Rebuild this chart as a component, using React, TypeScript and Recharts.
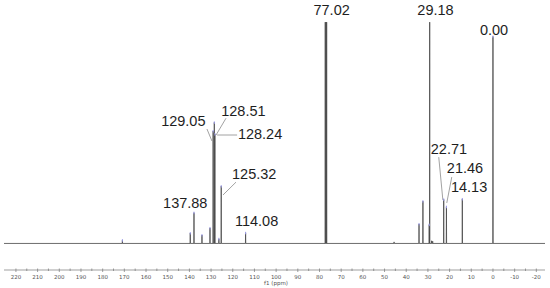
import { ComposedChart, Line, Scatter, XAxis, YAxis, ReferenceLine } from "recharts";

// 13C NMR peak list: shift (ppm) and relative height
const PEAK_PPM = [170.9, 139.6, 137.88, 134.2, 130.5, 129.05, 128.51, 128.24, 126.4, 125.32, 114.08, 77.34, 77.02, 76.7, 45.6, 34.1, 32.3, 29.4, 29.18, 28.3, 27.8, 22.71, 21.46, 14.13, 0.0];
const PEAK_HEIGHT = [1.5, 4.7, 13.9, 3.8, 7.0, 50.8, 54.7, 49.4, 2.1, 25.9, 4.8, 100, 100, 100, 0.7, 8.8, 19.1, 8.5, 100, 1.2, 1.0, 19.9, 16.6, 20.1, 93.5];
const PICKED = [true, true, true, true, true, true, true, true, true, true, true, false, false, false, false, true, true, true, false, false, false, true, true, true, true];

const MAJOR_TICKS = [220, 210, 200, 190, 180, 170, 160, 150, 140, 130, 120, 110, 100, 90, 80, 70, 60, 50, 40, 30, 20, 10, 0, -10, -20];
const MINOR_TICKS = [215, 205, 195, 185, 175, 165, 155, 145, 135, 125, 115, 105, 95, 85, 75, 65, 55, 45, 35, 25, 15, 5, -5, -15];

// peak annotations: text, anchor shift, anchor height
const LABEL_TEXT = ["77.02", "29.18", "0.00", "129.05", "128.51", "128.24", "125.32", "137.88", "114.08", "22.71", "21.46", "14.13"];
const LABEL_PPM = [74.4, 26.5, -0.5, 142.8, 115.1, 107.4, 110.1, 141.9, 109.0, 20.3, 12.9, 11.0];
const LABEL_V = [105.5, 105.5, 96.4, 55.3, 59.8, 49.3, 31.4, 18.5, 10.1, 42.7, 34.3, 25.3];

// leader lines [ppm1, v1, ppm2, v2]
const LEADERS = [
  [131.9, 51.7, 129.6, 46.3],
  [123.1, 56.6, 127.7, 49.0],
  [118.0, 49.0, 127.2, 49.0],
  [118.5, 27.7, 124.5, 21.9],
  [25.0, 39.0, 23.1, 19.6],
  [19.0, 30.0, 21.3, 18.3],
];

const X_MIN = -24;
const X_MAX = 225.5;
const HALF_WIDTH = 0.08;

const buildSpectrum = () => {
  const pts: { ppm: number; v: number }[] = [{ ppm: X_MAX, v: 0 }];
  PEAK_PPM.forEach((p, i) => {
    pts.push({ ppm: p + HALF_WIDTH, v: 0 });
    pts.push({ ppm: p, v: PEAK_HEIGHT[i] });
    pts.push({ ppm: p - HALF_WIDTH, v: 0 });
  });
  pts.push({ ppm: X_MIN, v: 0 });
  return pts;
};

const spectrum = buildSpectrum();
const markers = PEAK_PPM.map((p, i) => ({ ppm: p, v: PEAK_HEIGHT[i] })).filter((_, i) => PICKED[i]);
const labels = LABEL_TEXT.map((t, i) => ({ ppm: LABEL_PPM[i], v: LABEL_V[i], text: t }));

const AxisTick = (props: any) => {
  const { x, payload } = props;
  const major = payload.value % 10 === 0;
  return (
    <g>
      <line x1={x} x2={x} y1={268.5} y2={major ? 272 : 271} stroke="#777" strokeWidth={0.7} />
      {major && (
        <text x={x} y={277} textAnchor="middle" dominantBaseline="central" fontSize={5.5} fill="#555" fontFamily="DejaVu Sans, Verdana">
          {payload.value}
        </text>
      )}
    </g>
  );
};

const PeakLabel = (props: any) => (
  <text x={props.cx} y={props.cy} textAnchor="middle" dominantBaseline="central" fontSize={14.5} fill="#1e1e1e" fontFamily="Liberation Sans, Arial">
    {props.payload.text}
  </text>
);

const PickMarker = (props: any) => <rect x={props.cx - 0.5} y={props.cy - 1} width={1} height={2.5} fill="#9a9ae6" />;

export default function App() {
  return (
    <div style={{ position: "fixed", left: 0, top: 0, width: 550, height: 288, background: "#fff" }}>
      <ComposedChart width={550} height={288} margin={{ top: 0, right: 5, left: 4, bottom: 0 }}>
        <XAxis
          dataKey="ppm"
          type="number"
          domain={[X_MIN, X_MAX]}
          reversed
          allowDataOverflow
          ticks={[...MAJOR_TICKS, ...MINOR_TICKS]}
          interval={0}
          tick={<AxisTick />}
          tickLine={false}
          axisLine={{ stroke: "#777", strokeWidth: 0.7 }}
          height={18}
          tickSize={0}
          tickMargin={0}
        />
        <YAxis type="number" dataKey="v" domain={[-12, 110]} hide allowDataOverflow width={0} />
        <Line data={spectrum} dataKey="v" type="linear" stroke="#484848" strokeWidth={0.8} dot={false} activeDot={false} isAnimationActive={false} />
        <Scatter data={markers} dataKey="v" shape={<PickMarker />} isAnimationActive={false} />
        {LEADERS.map((l, i) => (
          <ReferenceLine key={i} segment={[{ x: l[0], y: l[1] }, { x: l[2], y: l[3] }]} stroke="#8a8a8a" strokeWidth={0.8} />
        ))}
        <Scatter data={labels} dataKey="v" shape={<PeakLabel />} isAnimationActive={false} />
        <text x={276} y={283} textAnchor="middle" dominantBaseline="central" fontSize={5.5} fill="#555" fontFamily="DejaVu Sans, Verdana">
          f1 (ppm)
        </text>
      </ComposedChart>
    </div>
  );
}
